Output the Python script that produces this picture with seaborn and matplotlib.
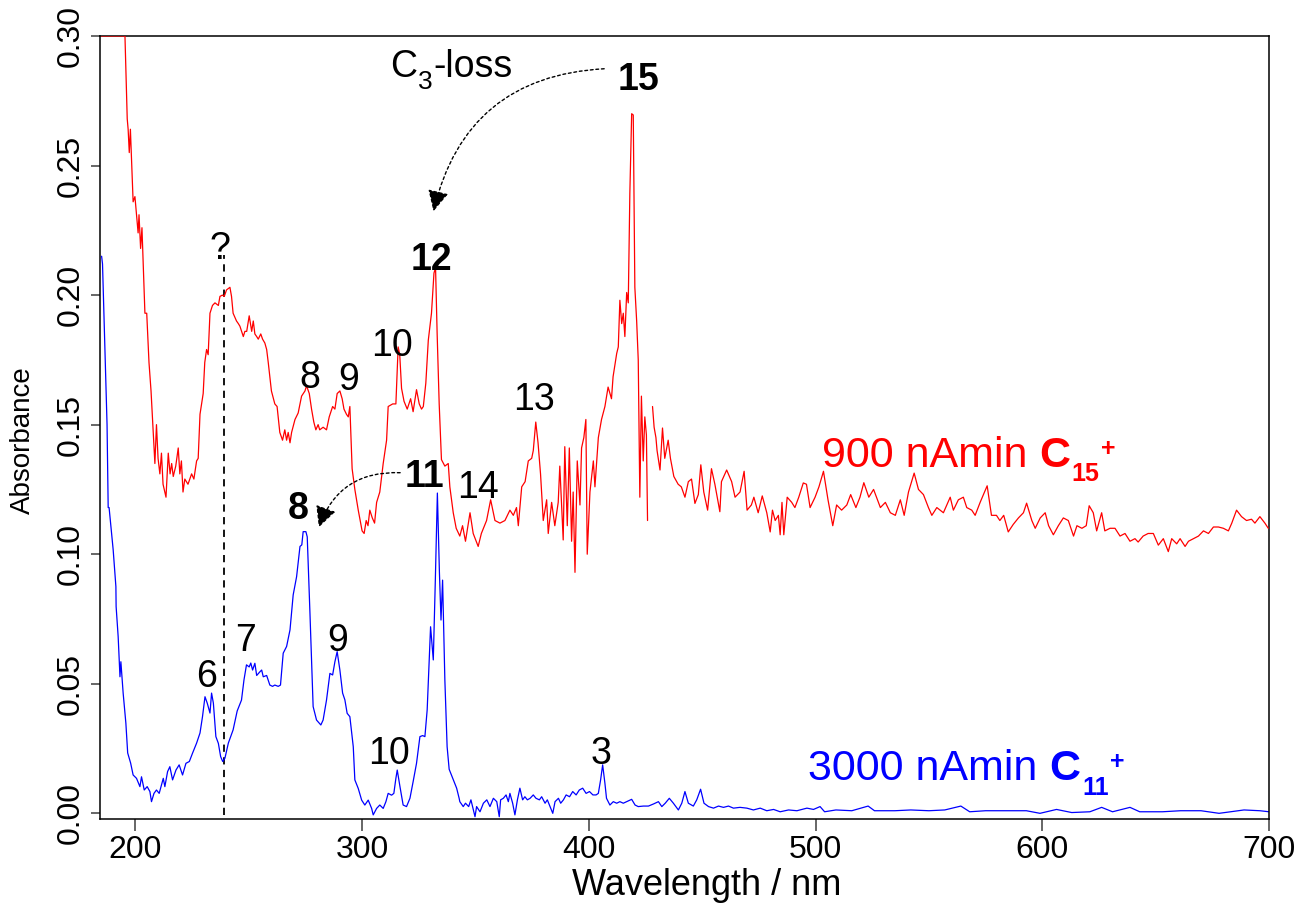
import numpy as np
import pandas as pd
import matplotlib
matplotlib.use("Agg")
import matplotlib.pyplot as plt
from matplotlib.patches import FancyArrowPatch
import seaborn as sns

# --- data (wavelength in nm, absorbance) ---
red_nm = [185.0, 195.4, 196.4, 196.8, 197.3, 197.8, 199.0, 199.8, 201.2, 201.6, 202.3, 202.9,
          204.2, 205.0, 206.0, 206.9, 208.6, 209.3, 210.0, 210.8, 211.5, 212.2, 213.5, 214.5,
          215.3, 216.0, 216.7, 217.8, 218.9, 219.6, 220.3, 221.0, 221.8, 223.2, 224.8, 225.8,
          227.0, 227.7, 228.5, 229.9, 230.6, 231.4, 232.1, 232.9, 234.0, 235.1, 236.6, 237.3,
          238.4, 239.2, 240.2, 241.7, 242.4, 243.1, 244.6, 245.4, 246.1, 247.6, 248.3, 249.1,
          250.2, 251.3, 252.0, 252.7, 253.5, 254.2, 255.3, 256.1, 257.1, 257.9, 258.6, 260.0,
          261.5, 262.5, 263.7, 264.9, 265.9, 266.7, 267.4, 268.2, 268.9, 270.4, 271.8, 273.3,
          274.8, 275.5, 276.7, 277.7, 278.7, 279.6, 280.6, 281.3, 282.8, 284.3, 285.5, 287.0,
          288.0, 289.0, 290.2, 291.2, 292.0, 293.1, 293.9, 294.6, 295.6, 296.8, 298.3, 300.0,
          300.9, 301.8, 302.6, 303.4, 304.5, 305.5, 306.4, 307.8, 309.3, 310.8, 311.5, 313.5,
          314.9, 315.9, 316.6, 317.4, 318.5, 319.9, 321.4, 322.5, 324.0, 325.2, 326.2, 327.0,
          328.1, 329.2, 330.6, 331.7, 332.4, 333.1, 334.0, 335.0, 336.5, 338.0, 338.7, 340.2,
          341.5, 343.1, 344.3, 345.6, 347.6, 349.0, 351.2, 352.6, 354.9, 356.7, 358.6, 360.8,
          363.0, 365.2, 366.7, 368.1, 368.9, 370.4, 371.9, 373.3, 374.8, 375.5, 376.6, 377.6,
          378.7, 379.9, 381.4, 382.1, 383.6, 385.0, 386.5, 387.2, 388.7, 389.4, 390.5, 391.4,
          392.4, 393.1, 393.9, 394.9, 396.1, 396.8, 397.8, 398.7, 399.3, 400.5, 402.0, 402.7,
          404.2, 405.6, 407.1, 408.5, 410.0, 410.7, 412.3, 413.0, 413.7, 414.5, 415.2, 415.9,
          416.7, 417.4, 418.1, 418.9, 419.6, 420.3, 421.1, 421.8, 422.5, 423.2, 424.0, 424.7,
          425.4, 425.9,
          428.1, 428.8, 429.6, 430.1, 431.4, 432.5, 433.5, 435.0, 436.0, 437.5, 439.4, 440.8,
          442.4, 443.9, 445.3, 446.8, 448.3, 449.4, 450.7, 452.4, 454.1, 455.6, 457.8, 458.5,
          460.8, 463.0, 464.5, 466.7, 468.5, 469.8, 471.7, 472.8, 474.7, 476.5, 478.5, 480.0,
          481.0, 482.2, 483.6, 484.4, 485.2, 486.0, 487.5, 489.5, 490.9, 492.6, 494.6, 496.0,
          497.6, 499.8, 501.5, 503.5, 505.5, 507.6, 509.3, 511.5, 513.8, 515.5, 517.8, 519.6,
          521.3, 523.5, 525.6, 528.6, 530.8, 533.0, 535.2, 537.4, 539.1, 541.0, 543.5, 545.4,
          547.6, 549.8, 551.3, 553.5, 556.4, 559.4, 560.8, 563.0, 565.2, 566.7, 568.9, 570.4,
          572.6, 575.7, 577.6, 579.8, 581.3, 583.0, 585.0, 587.2, 589.5, 591.7, 593.1, 595.4,
          596.9, 599.1, 601.3, 602.8, 604.9, 607.1, 609.3, 611.5, 613.8, 615.3, 617.5, 619.4,
          620.7, 622.5, 624.0, 626.2, 627.6, 629.9, 632.1, 634.3, 636.5, 638.7, 640.9, 642.3,
          644.5, 646.7, 649.0, 651.2, 653.4, 655.6, 657.1, 659.3, 660.8, 663.0, 664.5, 666.7,
          668.9, 671.1, 673.3, 675.5, 677.7, 679.9, 682.1, 683.6, 685.7, 687.9, 690.1, 692.3,
          693.8, 696.0, 698.2, 699.7]
red_abs = [0.300, 0.300, 0.268, 0.264, 0.255, 0.264, 0.236, 0.238, 0.224, 0.231, 0.218, 0.226,
           0.193, 0.193, 0.174, 0.163, 0.135, 0.150, 0.137, 0.131, 0.139, 0.127, 0.122, 0.139,
           0.131, 0.135, 0.130, 0.134, 0.141, 0.131, 0.136, 0.124, 0.129, 0.127, 0.131, 0.129,
           0.136, 0.137, 0.154, 0.162, 0.174, 0.179, 0.177, 0.193, 0.196, 0.197, 0.196, 0.1995,
           0.200, 0.1995, 0.202, 0.203, 0.1995, 0.193, 0.190, 0.189, 0.188, 0.184, 0.186, 0.186,
           0.192, 0.186, 0.190, 0.185, 0.184, 0.183, 0.185, 0.183, 0.1815, 0.179, 0.174, 0.163,
           0.158, 0.157, 0.147, 0.144, 0.148, 0.144, 0.147, 0.143, 0.147, 0.152, 0.1545, 0.161,
           0.163, 0.165, 0.162, 0.156, 0.151, 0.148, 0.150, 0.148, 0.149, 0.148, 0.153, 0.157,
           0.156, 0.162, 0.163, 0.160, 0.156, 0.154, 0.153, 0.157, 0.133, 0.125, 0.117, 0.109,
           0.108, 0.113, 0.111, 0.117, 0.114, 0.112, 0.120, 0.124, 0.135, 0.144, 0.157, 0.158,
           0.158, 0.180, 0.177, 0.164, 0.159, 0.156, 0.160, 0.155, 0.1635, 0.158, 0.156, 0.157,
           0.166, 0.1826, 0.193, 0.2085, 0.2105, 0.185, 0.158, 0.1365, 0.134, 0.135, 0.126, 0.116,
           0.110, 0.107, 0.111, 0.105, 0.116, 0.108, 0.103, 0.108, 0.113, 0.121, 0.113, 0.112,
           0.113, 0.117, 0.115, 0.118, 0.111, 0.126, 0.128, 0.136, 0.137, 0.140, 0.151, 0.143,
           0.131, 0.113, 0.121, 0.108, 0.120, 0.111, 0.120, 0.134, 0.1055, 0.1415, 0.111, 0.141,
           0.105, 0.124, 0.093, 0.136, 0.119, 0.141, 0.145, 0.152, 0.100, 0.124, 0.136, 0.126,
           0.145, 0.152, 0.157, 0.1645, 0.160, 0.1685, 0.1775, 0.180, 0.198, 0.189, 0.193, 0.184,
           0.201, 0.197, 0.2395, 0.270, 0.2695, 0.203, 0.190, 0.175, 0.122, 0.161, 0.136, 0.153,
           0.146, 0.113,
           0.157, 0.149, 0.145, 0.140, 0.1325, 0.1487, 0.137, 0.144, 0.137, 0.130, 0.127, 0.126,
           0.122, 0.128, 0.129, 0.1196, 0.123, 0.1345, 0.124, 0.117, 0.133, 0.127, 0.1164, 0.128,
           0.1325, 0.128, 0.122, 0.124, 0.132, 0.117, 0.119, 0.122, 0.116, 0.1225, 0.116, 0.1086,
           0.117, 0.113, 0.115, 0.1075, 0.120, 0.1075, 0.122, 0.120, 0.118, 0.122, 0.1275, 0.127,
           0.118, 0.122, 0.126, 0.132, 0.121, 0.111, 0.119, 0.117, 0.119, 0.123, 0.118, 0.122,
           0.1276, 0.122, 0.125, 0.118, 0.120, 0.116, 0.115, 0.121, 0.115, 0.124, 0.1313, 0.125,
           0.123, 0.118, 0.115, 0.118, 0.116, 0.122, 0.117, 0.121, 0.122, 0.118, 0.117, 0.115,
           0.120, 0.1264, 0.115, 0.115, 0.113, 0.115, 0.1086, 0.1115, 0.114, 0.116, 0.1197, 0.113,
           0.110, 0.114, 0.116, 0.111, 0.1075, 0.111, 0.114, 0.113, 0.107, 0.111, 0.110, 0.111,
           0.1187, 0.116, 0.109, 0.116, 0.109, 0.110, 0.110, 0.107, 0.108, 0.105, 0.106, 0.1047,
           0.107, 0.108, 0.108, 0.1035, 0.106, 0.101, 0.106, 0.104, 0.106, 0.103, 0.105, 0.106,
           0.107, 0.109, 0.108, 0.1105, 0.1105, 0.110, 0.109, 0.112, 0.117, 0.1145, 0.113, 0.1135,
           0.112, 0.1145, 0.112, 0.110]

blue_nm = [185.1, 185.5, 187.3, 187.5, 188.0, 188.4, 190.2, 191.4, 191.5, 192.4, 193.2, 193.6,
           194.6, 195.8, 196.6, 197.9, 199.0, 200.5, 202.0, 202.7, 203.9, 205.2, 206.4, 207.1,
           208.2, 209.3, 210.5, 212.3, 213.0, 214.2, 215.2, 216.4, 217.9, 219.3, 220.8, 222.3,
           223.8, 225.2, 227.0, 228.5, 229.6, 230.7, 231.7, 232.9, 233.6, 234.4, 235.5, 236.6,
           237.6, 238.5, 239.5, 241.0, 243.1, 244.9, 246.8, 247.9, 249.0, 250.2, 250.9, 251.7,
           252.7, 253.5, 254.9, 255.7, 256.4, 257.9, 259.3, 260.5, 261.5, 263.0, 264.0, 265.2,
           266.7, 268.2, 269.6, 271.1, 272.6, 273.4, 274.0, 275.2, 275.8, 277.0, 278.4, 279.9,
           281.8, 282.8, 284.3, 285.8, 287.0, 288.0, 289.0, 290.2, 291.4, 292.4, 293.4, 294.6,
           296.1, 296.8, 298.3, 299.8, 301.2, 302.7, 304.2, 304.9, 306.4, 307.8, 309.3, 310.5,
           311.5, 313.0, 314.0, 314.9, 315.5, 316.7, 318.1, 319.6, 321.1, 322.5, 324.0, 325.5,
           326.7, 327.7, 328.7, 329.6, 330.2, 331.4, 332.3, 333.2, 334.1, 334.8, 335.5, 336.5,
           337.5, 338.4, 339.8, 341.7, 342.8, 343.1, 344.6, 345.6, 347.0, 348.0, 349.8, 350.5,
           352.0, 353.5, 355.0, 356.4, 357.9, 359.4, 360.5, 361.1, 362.3, 363.5, 364.5, 365.2,
           366.4, 367.4, 368.5, 369.6, 370.8, 371.8, 372.9, 374.1, 375.5, 376.7, 378.2, 379.2,
           380.7, 381.7, 382.9, 384.1, 385.1, 386.6, 387.6, 388.8, 390.0, 391.5, 392.9, 394.4,
           395.8, 397.3, 398.8, 400.3, 401.8, 403.2, 404.2, 405.2, 406.1, 407.1, 407.8, 409.3,
           410.8, 412.3, 413.7, 415.2, 416.7, 418.9, 420.4, 421.8, 424.1, 426.3, 428.5, 430.7,
           432.2, 433.7, 435.5, 437.3, 439.5, 441.0, 442.4, 443.9, 446.1, 447.6, 449.3, 450.8,
           452.8, 455.0, 457.2, 459.4, 461.6, 463.8, 466.7, 469.7, 472.6, 475.6, 478.5, 481.5,
           484.4, 488.1, 491.8, 496.2, 499.1, 502.0, 504.0, 509.0, 516.0, 523.2, 526.0, 535.0,
           542.0, 550.0, 557.0, 564.1, 568.0, 575.0, 584.0, 593.0, 599.0, 606.3, 613.0, 621.0,
           626.2, 631.0, 638.7, 643.0, 653.0, 661.0, 670.0, 678.0, 689.0, 696.0, 700.0]
blue_abs = [0.215, 0.212, 0.157, 0.150, 0.118, 0.118, 0.1017, 0.0875, 0.0798, 0.0682, 0.0527, 0.0585,
            0.0464, 0.0348, 0.0233, 0.0194, 0.0148, 0.0135, 0.0103, 0.0141, 0.0090, 0.0103, 0.0084, 0.0045,
            0.0077, 0.0090, 0.0077, 0.0135, 0.0103, 0.0161, 0.0180, 0.0129, 0.0167, 0.0187, 0.0148, 0.0193,
            0.0200, 0.0232, 0.0271, 0.0310, 0.0373, 0.0450, 0.0425, 0.0387, 0.0464, 0.0425, 0.0296, 0.0270,
            0.0219, 0.0200, 0.0213, 0.0271, 0.0322, 0.0395, 0.0437, 0.0515, 0.0573, 0.0565, 0.0580, 0.0553,
            0.0579, 0.0532, 0.0546, 0.0553, 0.0527, 0.0532, 0.0495, 0.0490, 0.0495, 0.0490, 0.0495, 0.0618,
            0.0644, 0.0708, 0.0843, 0.0913, 0.1030, 0.1036, 0.1087, 0.1087, 0.1067, 0.0772, 0.0412, 0.0360,
            0.0341, 0.0360, 0.0437, 0.0540, 0.0534, 0.0585, 0.0624, 0.0553, 0.0464, 0.0438, 0.0386, 0.0373,
            0.0257, 0.0129, 0.0096, 0.0051, 0.0032, 0.0051, 0.0019, -0.0006, 0.0019, 0.0032, 0.0019, 0.0045,
            0.0077, 0.0070, 0.0077, 0.0135, 0.0167, 0.0103, 0.0032, 0.0026, 0.0058, 0.0122, 0.0193, 0.0296,
            0.0300, 0.0296, 0.0399, 0.0592, 0.0720, 0.0592, 0.0900, 0.1236, 0.0930, 0.0746, 0.0900, 0.0515,
            0.0257, 0.0170, 0.0139, 0.0097, 0.0058, 0.0045, 0.0026, 0.0039, 0.0026, 0.0052, -0.0013, 0.0026,
            0.0006, 0.0039, 0.0052, 0.0026, 0.0058, 0.0045, -0.0013, 0.0052, 0.0058, 0.0071, 0.0045, 0.0077,
            0.0039, -0.0006, 0.0052, 0.0097, 0.0052, 0.0064, 0.0052, 0.0058, 0.0071, 0.0058, 0.0052, 0.0064,
            0.0039, 0.0052, 0.0026, 0.0000, 0.0045, 0.0058, 0.0039, 0.0052, 0.0071, 0.0064, 0.0084, 0.0071,
            0.0090, 0.0097, 0.0077, 0.0084, 0.0071, 0.0071, 0.0077, 0.0129, 0.0187, 0.0116, 0.0058, 0.0032,
            0.0045, 0.0039, 0.0045, 0.0039, 0.0045, 0.0054, 0.0032, 0.0026, 0.0028, 0.0028, 0.0036, 0.0045,
            0.0026, 0.0039, 0.0058, 0.0039, 0.0013, 0.0039, 0.0084, 0.0039, 0.0028, 0.0052, 0.0093, 0.0039,
            0.0026, 0.0020, 0.0028, 0.0023, 0.0028, 0.0020, 0.0023, 0.0020, 0.0013, 0.0020, 0.0010, 0.0015,
            0.0006, 0.0013, 0.0010, 0.0020, 0.0015, 0.0026, 0.0006, 0.0013, 0.0010, 0.0028, 0.0010, 0.0010,
            0.0013, 0.0010, 0.0013, 0.0028, 0.0006, 0.0010, 0.0010, 0.0010, 0.0000, 0.0015, 0.0003, 0.0006,
            0.0023, 0.0006, 0.0023, 0.0006, 0.0006, 0.0010, 0.0010, 0.0000, 0.0013, 0.0010, 0.0006]

red_gap_nm = 427.0  # the red trace has a short gap here

# peak labels: (text, nm, absorbance, bold)
red_peaks = [("8", 277.0, 0.1642, False), ("9", 294.2, 0.1634, False), ("10", 313.1, 0.1763, False),
             ("12", 330.6, 0.2097, True), ("13", 375.8, 0.1557, False), ("14", 350.9, 0.1218, False),
             ("15", 422.1, 0.2793, True)]
blue_peaks = [("6", 231.5, 0.0488, False), ("7", 248.7, 0.0627, False), ("8", 271.9, 0.1136, True),
              ("9", 289.3, 0.0627, False), ("10", 311.8, 0.0190, False), ("11", 327.7, 0.1260, True),
              ("3", 405.3, 0.0190, False)]

sns.set_theme(style="ticks")
plt.rcParams['font.family'] = ['Liberation Sans', 'DejaVu Sans']
plt.rcParams['text.color'] = 'black'
plt.rcParams['axes.labelcolor'] = 'black'
plt.rcParams['xtick.labelcolor'] = 'black'
plt.rcParams['ytick.labelcolor'] = 'black'

df_red = pd.DataFrame({'nm': red_nm, 'abs': red_abs})
df_red['seg'] = (df_red['nm'] > red_gap_nm).astype(int)
df_blue = pd.DataFrame({'nm': blue_nm, 'abs': blue_abs, 'seg': 0})

fig = plt.figure(figsize=(13.07, 9.06), dpi=100)
ax = fig.add_axes([0.0767, 0.096, 0.8942, 0.8643])

sns.lineplot(data=df_blue, x='nm', y='abs', units='seg', estimator=None, sort=False,
             color='#0000ff', linewidth=0.9, ax=ax)
sns.lineplot(data=df_red, x='nm', y='abs', units='seg', estimator=None, sort=False,
             color='#ff0000', linewidth=0.9, ax=ax, zorder=3)

ax.set_xlim(184.5, 700)
ax.set_ylim(-0.0022, 0.30)
ax.set_xticks([200, 300, 400, 500, 600, 700])
ax.set_yticks(np.arange(0, 0.301, 0.05))
ax.yaxis.set_major_formatter(matplotlib.ticker.FormatStrFormatter('%.2f'))

for s in ax.spines.values():
    s.set_color('black')
    s.set_linewidth(1.1)
ax.tick_params(axis='x', length=8.5, width=1.4, color='#666666', labelsize=23, pad=3)
ax.tick_params(axis='y', length=6.3, width=1.4, color='#666666', labelsize=23, pad=4, labelrotation=90)
for lab in ax.get_yticklabels():
    lab.set_va('center')

ax.set_xlabel('Wavelength / nm', fontsize=26)
ax.set_ylabel('Absorbance', fontsize=20)
ax.xaxis.set_label_coords(0.519, -0.062)
ax.yaxis.set_label_coords(-0.055, 0.484)

# "?" marker with dashed guide line
ax.vlines(239.2, -0.0008, 0.2155, colors='black', linestyles=(0, (4, 3)), linewidth=1.3, zorder=1)
ax.text(237.4, 0.2140, '?', fontsize=27, ha='center', va='baseline')

for txt, x, y, bold in red_peaks + blue_peaks:
    ax.text(x, y, txt, fontsize=27, ha='center', va='baseline',
            fontweight='bold' if bold else 'normal', zorder=4)


def chem_label(x, y, lead, sub, sup, tail, size, subsize, color, bold):
    # lead text, then "C" with a dropped subscript and a raised superscript
    w = 'bold' if bold else 'normal'
    t0 = ax.text(x, y, lead, fontsize=size, color=color, ha='left', va='baseline')
    tC = ax.annotate('C', xy=(1, 0), xycoords=t0, xytext=(0, 0), textcoords='offset points',
                     fontsize=size, fontweight=w, color=color, ha='left', va='bottom')
    tS = ax.annotate(sub, xy=(1, 0), xycoords=tC, xytext=(1.0, -0.25 * size),
                     textcoords='offset points', fontsize=subsize, fontweight=w, color=color,
                     ha='left', va='bottom')
    last = tS
    if sup:
        last = ax.annotate(sup, xy=(1, 0), xycoords=(tS, tC), xytext=(1.0, 0.34 * size),
                           textcoords='offset points', fontsize=subsize, fontweight=w, color=color,
                           ha='left', va='bottom')
    if tail:
        ax.annotate(tail, xy=(1, 0), xycoords=(last, tC), xytext=(0.5, 0), textcoords='offset points',
                    fontsize=size, color=color, ha='left', va='bottom')


chem_label(312.3, 0.2812, '', '3', None, '-loss', 27, 19, 'black', False)
chem_label(502.8, 0.1338, '900 nAmin ', '15', '+', None, 31, 18, '#ff0000', True)
chem_label(496.8, 0.0129, '3000 nAmin ', '11', '+', None, 31, 18, '#0000ff', True)

for start, end in [((408.0, 0.2874), (331.2, 0.2313)), ((318.0, 0.1314), (280.5, 0.1094))]:
    arr = FancyArrowPatch(start, end, connectionstyle='arc3,rad=0.38', arrowstyle='-|>',
                          mutation_scale=32, linewidth=1.0, linestyle=(0, (2, 2)),
                          color='black', zorder=4)
    ax.add_patch(arr)

fig.savefig('out.png', dpi=100)
